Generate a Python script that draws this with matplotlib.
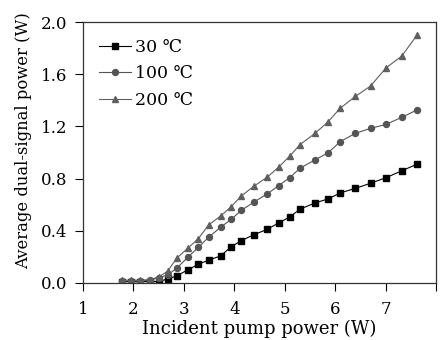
import matplotlib
matplotlib.use('Agg')
import matplotlib.pyplot as plt

# pump power (W), shared by all three temperatures
pump = [1.78, 1.96, 2.14, 2.32, 2.50, 2.68, 2.86, 3.08, 3.29, 3.49, 3.73, 3.94, 4.14,
        4.39, 4.65, 4.88, 5.10, 5.30, 5.60, 5.86, 6.10, 6.40, 6.70, 7.01, 7.32, 7.62]

p_30 = [0.01, 0.01, 0.01, 0.01, 0.01, 0.03, 0.054, 0.10, 0.143, 0.174, 0.207, 0.278, 0.324,
        0.37, 0.41, 0.46, 0.506, 0.565, 0.613, 0.644, 0.69, 0.725, 0.764, 0.807, 0.86, 0.91]
p_100 = [0.015, 0.015, 0.015, 0.02, 0.04, 0.06, 0.113, 0.197, 0.273, 0.35, 0.427, 0.488, 0.556,
         0.62, 0.682, 0.746, 0.807, 0.879, 0.943, 0.998, 1.083, 1.147, 1.185, 1.216, 1.27, 1.326]
p_200 = [0.02, 0.02, 0.02, 0.025, 0.045, 0.09, 0.19, 0.266, 0.34, 0.444, 0.513, 0.585, 0.667,
         0.742, 0.81, 0.888, 0.973, 1.06, 1.147, 1.236, 1.34, 1.43, 1.51, 1.65, 1.74, 1.90]

labels = ['30 \u2103', '100 \u2103', '200 \u2103']

plt.rcParams['font.family'] = ['DejaVu Serif', 'DejaVu Sans']
plt.rcParams['font.size'] = 12

fig = plt.figure(figsize=(4.41, 3.40), dpi=100)
ax = fig.add_axes([0.188, 0.168, 0.801, 0.767])

ax.plot(pump, p_30, color='black', marker='s', markersize=4.0, lw=0.8, label=labels[0])
ax.plot(pump, p_100, color='#555555', marker='o', markersize=4.3, lw=0.8, label=labels[1])
ax.plot(pump, p_200, color='#5f5f5f', marker='^', markersize=5, lw=0.8, label=labels[2])

ax.set_xlim(1, 8)
ax.set_ylim(0, 2.0)
ax.set_xticks([1, 2, 3, 4, 5, 6, 7, 8])
ax.set_xticklabels(['1', '2', '3', '4', '5', '6', '7', ''])
ax.set_yticks([0.0, 0.4, 0.8, 1.2, 1.6, 2.0])
ax.set_yticklabels(['0.0', '0.4', '0.8', '1.2', '1.6', '2.0'])
ax.tick_params(direction='out', length=6, width=0.8, labelsize=12, pad=5)
ax.tick_params(axis='x', pad=7)
for s in ax.spines.values():
    s.set_linewidth(0.9)
    s.set_color('#333333')

ax.set_xlabel('Incident pump power (W)', fontsize=13, labelpad=1)
ax.set_ylabel('Average dual-signal power (W)', fontsize=11.8)
ax.yaxis.set_label_coords(-0.1445, 0.546)

ax.legend(loc='upper left', frameon=False, fontsize=12.5, handlelength=1.8,
          handletextpad=0.25, labelspacing=0.55, borderaxespad=0.55)

fig.savefig('out.png', dpi=100)
